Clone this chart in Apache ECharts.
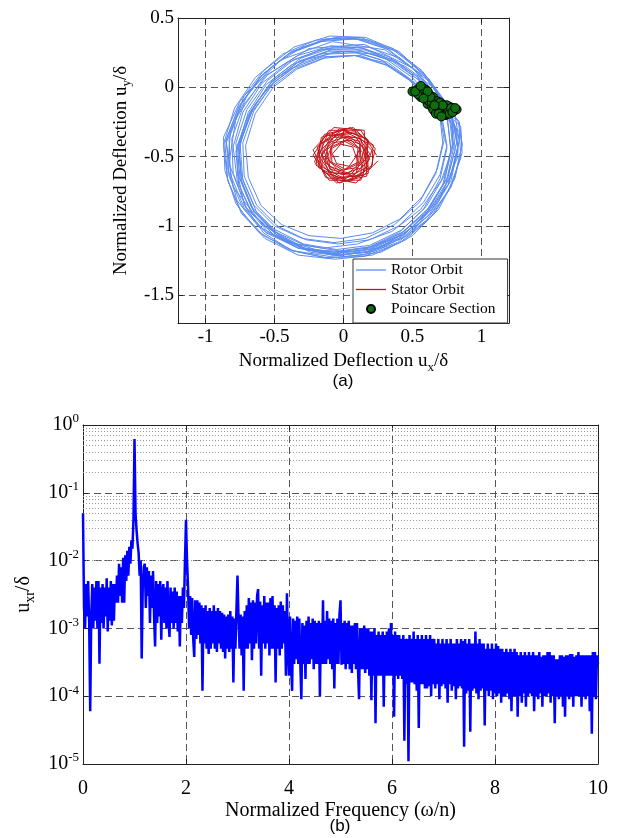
<!DOCTYPE html>
<html>
<head>
<meta charset="utf-8">
<script src="https://cdn.jsdelivr.net/npm/echarts@6/dist/echarts.min.js"></script>
<style>
html,body{margin:0;padding:0;background:#fff;}
#chart{width:617px;height:838px;}
</style>
</head>
<body>
<div id="chart"></div>
<script>
// ---- Panel (a): rotor orbit (x, y) ----
const rotorOrbit = [
[0.74,-0.12],[0.58,0.10],[0.36,0.27],[0.12,0.35],[-0.14,0.34],[-0.39,0.25],[-0.60,0.08],[-0.76,-0.14],[-0.86,-0.40],[-0.84,-0.67],[-0.74,-0.91],[-0.57,-1.09],[-0.33,-1.21],[-0.06,-1.24],[0.21,-1.21],[0.45,-1.10],[0.66,-0.91],[0.80,-0.67],[0.86,-0.42],[0.83,-0.24],
[0.66,-0.13],[0.51,0.04],[0.32,0.18],[0.11,0.25],[-0.11,0.24],[-0.32,0.17],[-0.51,0.03],[-0.65,-0.17],[-0.73,-0.40],[-0.72,-0.64],[-0.63,-0.85],[-0.48,-1.00],[-0.27,-1.10],[-0.04,-1.13],[0.19,-1.10],[0.40,-1.00],[0.58,-0.83],[0.70,-0.63],[0.75,-0.42],[0.72,-0.25],
[0.72,-0.14],[0.57,0.05],[0.38,0.19],[0.15,0.27],[-0.09,0.27],[-0.32,0.19],[-0.52,0.04],[-0.67,-0.17],[-0.76,-0.42],[-0.74,-0.67],[-0.65,-0.89],[-0.49,-1.06],[-0.27,-1.17],[-0.02,-1.21],[0.23,-1.18],[0.46,-1.07],[0.65,-0.89],[0.78,-0.67],[0.83,-0.44],[0.80,-0.27],
[0.72,-0.10],[0.58,0.09],[0.40,0.25],[0.18,0.34],[-0.06,0.36],[-0.30,0.29],[-0.52,0.15],[-0.70,-0.06],[-0.82,-0.32],[-0.84,-0.58],[-0.77,-0.82],[-0.62,-1.00],[-0.40,-1.12],[-0.15,-1.16],[0.10,-1.13],[0.35,-1.04],[0.56,-0.88],[0.71,-0.67],[0.79,-0.44],[0.79,-0.24],
[0.70,-0.10],[0.54,0.11],[0.33,0.27],[0.09,0.35],[-0.16,0.33],[-0.40,0.24],[-0.60,0.08],[-0.76,-0.14],[-0.85,-0.38],[-0.83,-0.64],[-0.73,-0.87],[-0.57,-1.04],[-0.34,-1.15],[-0.08,-1.19],[0.18,-1.16],[0.42,-1.05],[0.62,-0.87],[0.76,-0.64],[0.82,-0.40],[0.79,-0.22],
[0.78,-0.18],[0.65,0.00],[0.45,0.15],[0.22,0.24],[-0.03,0.26],[-0.27,0.20],[-0.48,0.07],[-0.64,-0.12],[-0.74,-0.36],[-0.77,-0.61],[-0.72,-0.85],[-0.58,-1.05],[-0.37,-1.18],[-0.12,-1.23],[0.14,-1.21],[0.39,-1.12],[0.60,-0.96],[0.76,-0.75],[0.85,-0.51],[0.84,-0.32],
[0.70,-0.16],[0.54,0.01],[0.34,0.15],[0.12,0.23],[-0.12,0.22],[-0.34,0.14],[-0.53,0.00],[-0.68,-0.20],[-0.76,-0.44],[-0.74,-0.68],[-0.65,-0.90],[-0.49,-1.06],[-0.28,-1.17],[-0.04,-1.21],[0.20,-1.18],[0.42,-1.08],[0.60,-0.91],[0.73,-0.69],[0.78,-0.46],[0.76,-0.29],
[0.74,-0.14],[0.50,0.14],[0.15,0.31],[-0.25,0.28],[-0.57,0.08],[-0.78,-0.22],[-0.83,-0.55],[-0.70,-0.88],[-0.44,-1.10],[-0.10,-1.20],[0.26,-1.16],[0.55,-0.98],[0.76,-0.70],[0.84,-0.38],
[0.76,-0.15],[0.60,0.08],[0.40,0.26],[0.16,0.36],[-0.10,0.37],[-0.36,0.29],[-0.58,0.12],[-0.75,-0.10],[-0.87,-0.36],[-0.86,-0.60],[-0.78,-0.84],[-0.62,-1.04],[-0.40,-1.17],[-0.13,-1.23],[0.15,-1.22],[0.41,-1.12],[0.63,-0.94],[0.78,-0.72],[0.86,-0.47],[0.85,-0.28],
[0.63,-0.09],[0.48,0.06],[0.29,0.18],[0.08,0.23],[-0.14,0.21],[-0.34,0.13],[-0.51,0.00],[-0.64,-0.19],[-0.71,-0.42],[-0.69,-0.65],[-0.60,-0.85],[-0.45,-0.99],[-0.25,-1.07],[-0.02,-1.09],[0.21,-1.05],[0.41,-0.95],[0.57,-0.79],[0.68,-0.59],[0.73,-0.38],[0.70,-0.20],
[0.69,-0.11],[0.53,0.08],[0.33,0.22],[0.11,0.29],[-0.13,0.28],[-0.36,0.20],[-0.55,0.05],[-0.70,-0.16],[-0.78,-0.40],[-0.76,-0.64],[-0.67,-0.86],[-0.51,-1.02],[-0.29,-1.13],[-0.05,-1.17],[0.19,-1.14],[0.42,-1.03],[0.60,-0.86],[0.73,-0.64],[0.79,-0.41],[0.77,-0.23],
[0.68,-0.08],[0.52,0.12],[0.31,0.28],[0.06,0.36],[-0.20,0.34],[-0.44,0.24],[-0.64,0.07],[-0.79,-0.15],[-0.87,-0.41],[-0.84,-0.67],[-0.74,-0.90],[-0.58,-1.07],[-0.36,-1.18],[-0.10,-1.22],[0.16,-1.19],[0.40,-1.09],[0.60,-0.92],[0.74,-0.70],[0.81,-0.45],[0.79,-0.25],
[0.62,-0.10],[0.46,0.07],[0.27,0.20],[0.05,0.26],[-0.17,0.24],[-0.38,0.16],[-0.56,0.02],[-0.69,-0.18],[-0.76,-0.41],[-0.74,-0.64],[-0.65,-0.85],[-0.50,-1.00],[-0.30,-1.09],[-0.07,-1.12],[0.16,-1.09],[0.37,-0.99],[0.55,-0.83],[0.67,-0.62],[0.72,-0.40],[0.70,-0.22],
[0.70,-0.15],[0.56,0.04],[0.37,0.19],[0.15,0.28],[-0.09,0.30],[-0.33,0.23],[-0.55,0.09],[-0.72,-0.12],[-0.81,-0.37],[-0.80,-0.62],[-0.71,-0.86],[-0.55,-1.04],[-0.33,-1.16],[-0.08,-1.21],[0.18,-1.19],[0.42,-1.09],[0.62,-0.92],[0.76,-0.70],[0.83,-0.46],[0.81,-0.28],
[0.76,-0.16],[0.61,0.05],[0.41,0.21],[0.18,0.29],[-0.07,0.29],[-0.31,0.21],[-0.51,0.06],[-0.66,-0.16],[-0.75,-0.41],[-0.73,-0.67],[-0.63,-0.90],[-0.46,-1.07],[-0.24,-1.19],[0.02,-1.22],[0.27,-1.19],[0.50,-1.07],[0.69,-0.88],[0.81,-0.65],[0.86,-0.41],[0.84,-0.25],
[0.80,-0.20],[0.62,0.06],[0.30,0.27],[-0.08,0.33],[-0.45,0.20],[-0.72,-0.06],[-0.85,-0.40],[-0.80,-0.72],[-0.58,-1.00],[-0.26,-1.17],[0.10,-1.19],[0.44,-1.06],[0.69,-0.82],[0.83,-0.50],[0.82,-0.30],
[0.67,-0.15],[0.51,0.03],[0.31,0.16],[0.08,0.23],[-0.15,0.22],[-0.37,0.14],[-0.56,-0.01],[-0.70,-0.22],[-0.78,-0.46],[-0.76,-0.70],[-0.66,-0.91],[-0.50,-1.07],[-0.29,-1.16],[-0.05,-1.19],[0.19,-1.15],[0.40,-1.05],[0.58,-0.88],[0.70,-0.66],[0.75,-0.44],[0.72,-0.27],
[0.66,-0.11],[0.50,0.07],[0.30,0.21],[0.07,0.28],[-0.17,0.27],[-0.40,0.18],[-0.59,0.03],[-0.73,-0.18],[-0.80,-0.43],[-0.77,-0.68],[-0.67,-0.90],[-0.51,-1.06],[-0.30,-1.16],[-0.06,-1.20],[0.18,-1.17],[0.40,-1.07],[0.59,-0.91],[0.72,-0.70],[0.78,-0.47],[0.76,-0.28],
[0.73,-0.09],[0.57,0.12],[0.36,0.28],[0.12,0.36],[-0.13,0.35],[-0.37,0.26],[-0.58,0.10],[-0.74,-0.12],[-0.83,-0.37],[-0.82,-0.63],[-0.72,-0.87],[-0.56,-1.05],[-0.33,-1.16],[-0.07,-1.20],[0.19,-1.17],[0.44,-1.06],[0.64,-0.88],[0.78,-0.64],[0.84,-0.39],[0.81,-0.21],
[0.71,-0.13],[0.55,0.05],[0.35,0.19],[0.13,0.26],[-0.11,0.26],[-0.33,0.18],[-0.53,0.03],[-0.68,-0.18],[-0.77,-0.42],[-0.75,-0.66],[-0.66,-0.88],[-0.50,-1.04],[-0.28,-1.14],[-0.03,-1.18],[0.21,-1.15],[0.44,-1.04],[0.62,-0.87],[0.75,-0.66],[0.80,-0.43],[0.78,-0.26],
[0.72,-0.13]
];

// ---- Panel (a): stator orbit (x, y) ----
const statorOrbit = [
[0.24,-0.49],[0.125,-0.31],[-0.105,-0.31],[-0.22,-0.49],[-0.105,-0.67],[0.125,-0.67],
[0.22,-0.42],[0.05,-0.29],[-0.16,-0.36],[-0.20,-0.56],[-0.03,-0.69],[0.18,-0.62],
[0.17,-0.37],[-0.03,-0.30],[-0.19,-0.43],[-0.15,-0.61],[0.05,-0.68],[0.21,-0.56],
[0.21,-0.46],[0.08,-0.32],[-0.12,-0.35],[-0.19,-0.52],[-0.06,-0.66],[0.14,-0.63],
[0.18,-0.405],[0.01,-0.32],[-0.155,-0.405],[-0.155,-0.575],[0.01,-0.66],[0.175,-0.575],
[0.125,-0.37],[-0.05,-0.34],[-0.17,-0.46],[-0.105,-0.61],[0.07,-0.64],[0.19,-0.52],
[0.175,-0.49],[0.09,-0.36],[-0.07,-0.36],[-0.155,-0.49],[-0.07,-0.62],[0.09,-0.62],
[0.155,-0.44],[0.035,-0.35],[-0.11,-0.40],[-0.135,-0.54],[-0.015,-0.63],[0.13,-0.58],
[0.12,-0.41],[-0.015,-0.36],[-0.12,-0.45],[-0.10,-0.57],[0.035,-0.62],[0.14,-0.53],
[0.14,-0.47],[0.055,-0.38],[-0.075,-0.40],[-0.12,-0.51],[-0.035,-0.60],[0.095,-0.58],
[0.105,-0.44],[0.01,-0.39],[-0.085,-0.44],[-0.085,-0.54],[0.01,-0.59],[0.105,-0.54],
[0.067,-0.43],[-0.02,-0.41],[-0.08,-0.48],[-0.05,-0.55],[0.04,-0.57],[0.09,-0.50],
[0.12,-0.44],[0.02,-0.38],[-0.09,-0.43],[-0.10,-0.54],[0.00,-0.60],[0.11,-0.55],
[0.12,-0.39],[-0.03,-0.35],[-0.14,-0.46],[-0.10,-0.59],[0.05,-0.63],[0.16,-0.52],
[0.19,-0.48],[0.09,-0.33],[-0.09,-0.35],[-0.17,-0.51],[-0.07,-0.65],[0.12,-0.64],
[0.18,-0.38],[0.00,-0.305],[-0.17,-0.41],[-0.18,-0.58],[0.02,-0.675],[0.20,-0.58],
[0.23,-0.44],[0.07,-0.29],[-0.14,-0.34],[-0.21,-0.54],[-0.05,-0.69],[0.17,-0.64],
[0.15,-0.31],[-0.07,-0.29],[-0.22,-0.45],[-0.13,-0.65],[0.09,-0.69],[0.25,-0.53]
];

// ---- Panel (a): Poincare section points (x, y) ----
const poincarePoints = [
[0.50,-0.03],[0.53,-0.02],[0.55,-0.04],[0.57,0.00],[0.58,-0.05],[0.60,-0.02],[0.56,-0.07],[0.60,-0.08],
[0.62,-0.05],[0.63,-0.09],[0.61,-0.12],[0.65,-0.07],[0.66,-0.11],[0.64,-0.14],[0.67,-0.15],[0.68,-0.10],
[0.69,-0.13],[0.70,-0.17],[0.68,-0.18],[0.71,-0.12],[0.72,-0.15],[0.72,-0.19],[0.73,-0.13],[0.74,-0.17],
[0.70,-0.20],[0.75,-0.15],[0.76,-0.18],[0.74,-0.20],[0.77,-0.14],[0.78,-0.17],[0.79,-0.15],[0.80,-0.17],
[0.82,-0.16],[0.66,-0.17],[0.69,-0.16],[0.71,-0.14],[0.73,-0.16],[0.75,-0.13],[0.67,-0.13],[0.62,-0.10],
[0.59,-0.06],[0.54,-0.05],[0.52,-0.03],[0.64,-0.11],[0.65,-0.16],[0.67,-0.19],[0.68,-0.14],[0.70,-0.15],
[0.70,-0.11],[0.71,-0.18],[0.72,-0.17],[0.73,-0.20],[0.73,-0.18],[0.74,-0.15],[0.75,-0.19],[0.76,-0.16],
[0.77,-0.19],[0.78,-0.15],[0.79,-0.18],[0.81,-0.15],[0.69,-0.19],[0.71,-0.21],[0.72,-0.13],[0.66,-0.13],
[0.63,-0.07],[0.58,-0.01],[0.56,0.01],[0.61,-0.03],[0.58,-0.08]
];

// ---- Panel (b): spectrum, sampled every 0.02 in normalized frequency from 0 to 10 ----
const freqStep = 0.02;
const spectrumValues = [
5e-2,2e-3,1e-3,4.5e-3,1.5e-3,5e-3,1.2e-3,6e-5,1.5e-3,4.5e-3,
1e-3,4e-3,1.3e-3,5e-3,1e-3,5e-3,3e-4,4e-3,1.2e-3,4.5e-3,
1e-3,4e-3,1.5e-3,5.5e-3,9e-4,4e-3,1.3e-3,5e-3,1.1e-3,4.5e-3,
1.3e-3,4.5e-3,2.4e-3,6e-3,2.4e-3,9e-3,3e-3,8e-3,2.4e-3,1.1e-2,
2.4e-3,1.2e-2,5e-3,1.4e-2,6e-3,1.6e-2,9e-3,2e-2,1.5e-2,4e-2,
0.62,5e-2,2.8e-2,1.8e-2,1.3e-2,6e-3,1e-2,3.6e-4,4e-3,8e-3,
9e-3,2e-3,8e-3,3e-3,7e-3,1.2e-3,6e-3,2e-3,7e-3,1.5e-3,
5.4e-4,5e-3,1.2e-3,4.5e-3,1.5e-3,5e-3,6.8e-4,3.5e-3,4.5e-3,1.2e-3,
4e-3,1e-3,5e-3,1.3e-3,7.5e-4,4e-3,1.2e-3,3.5e-3,1e-3,4e-3,
1.2e-3,3.5e-3,9e-4,3e-3,5.4e-4,3e-3,1.2e-3,4e-3,2e-3,1e-2,
4e-2,1e-2,4e-3,1e-3,3e-3,8e-4,2.8e-3,7e-4,3.8e-4,2.6e-3,
7e-4,2.6e-3,8e-4,2.4e-3,6e-4,2.2e-3,1.2e-4,2e-3,6e-4,2.2e-3,
5e-4,1.8e-3,4.2e-4,2e-3,5e-4,1.8e-3,6e-4,2.2e-3,5e-4,1.8e-3,
4.5e-4,2e-3,6e-4,1.8e-3,5e-4,1.7e-3,4.5e-4,1.6e-3,3.6e-4,1.5e-3,
5e-4,1.6e-3,4.5e-4,1.8e-3,5e-4,1.5e-3,1.6e-4,1.4e-3,5e-4,2e-3,
6e-3,1.4e-3,5e-4,1.6e-3,4e-4,1.5e-3,1.2e-4,1.8e-3,5e-4,2.2e-3,
5e-4,2.8e-3,6e-4,2.4e-3,3.4e-4,2.6e-3,5e-4,2.4e-3,6e-4,3e-3,
3.8e-3,5e-4,2.5e-3,2e-4,2.2e-3,6e-4,3e-3,5e-4,2.4e-3,6e-4,
2.4e-3,4e-4,2.8e-3,5e-4,3e-3,5e-4,2.2e-3,1.6e-4,2e-3,5e-4,
2.2e-3,4e-4,2.5e-3,5e-4,2.2e-3,6e-4,1.8e-3,2e-4,3.3e-3,5e-4,
2e-4,1.5e-3,3e-4,1.2e-4,1.4e-3,3e-4,1.3e-3,3.5e-4,1.5e-3,3e-4,
1.4e-3,3e-4,9e-5,1.2e-3,3e-4,1.1e-3,1.8e-4,1.3e-3,3e-4,1.5e-3,
3e-4,1.2e-3,3.5e-4,1.4e-3,2.5e-4,1.3e-3,3e-4,1.2e-3,3e-4,1.3e-3,
1e-4,1.2e-3,3e-4,2.6e-3,3e-4,1.3e-3,3e-4,1.8e-3,3.5e-4,1.4e-3,
3e-4,1.3e-3,2.5e-4,1.4e-3,1.3e-4,1.2e-3,3e-4,1.4e-3,3e-4,1.6e-3,
2.6e-3,2.9e-4,1.2e-3,3e-4,1.3e-3,2.5e-4,1.2e-3,3e-4,1.3e-3,2.5e-4,
1.1e-3,2.2e-4,1.1e-3,3e-4,1.2e-3,2.5e-4,1.2e-3,2.5e-4,9e-5,1e-3,
2.5e-4,1e-3,2.5e-4,1.1e-3,2.2e-4,1e-3,2.5e-4,1e-3,2e-4,9e-4,
8.7e-5,9e-4,2e-4,1e-3,4e-5,8e-4,2e-4,9e-4,2e-4,8e-4,
2e-4,9e-4,7e-5,8e-4,2e-4,9e-4,2e-4,1e-3,2e-4,1.2e-3,
2e-4,8e-4,5e-5,9e-4,2e-4,8e-4,1.8e-4,8e-4,2e-4,7e-4,
1.8e-4,8e-4,2.2e-5,7e-4,1.5e-4,7e-4,1.1e-5,8e-4,1.6e-4,7e-4,
1.6e-4,9e-4,1.5e-4,7e-4,1.2e-4,8e-4,3.4e-5,7e-4,1.5e-4,8e-4,
1.5e-4,7e-4,1.3e-4,8e-4,1.3e-4,7e-4,1.4e-4,8e-4,1e-4,7e-4,
1.5e-4,7e-4,1.3e-4,6e-4,1.5e-4,7e-4,9e-5,6e-4,1.4e-4,7e-4,
1.5e-4,6e-4,1.3e-4,7e-4,8e-5,6e-4,1.5e-4,7e-4,1.2e-4,6e-4,
1.4e-4,6e-4,9e-5,7e-4,1.3e-4,6e-4,1.4e-4,7e-4,1.3e-4,6.5e-4,
1.8e-5,7e-4,1.1e-4,6e-4,1.2e-4,7e-4,3e-5,6e-4,1.2e-4,6e-4,
1.3e-4,9e-4,1.1e-4,6e-4,9e-5,7e-4,1.2e-4,6e-4,1.3e-4,6e-4,
3.7e-5,5e-4,1.2e-4,6e-4,1e-4,5e-4,1.2e-4,6e-4,9e-5,5e-4,
1.1e-4,6e-4,1e-4,5.5e-4,1.1e-4,5e-4,8e-5,5e-4,1e-4,4.5e-4,
1e-4,5e-4,1.1e-4,4.5e-4,9e-5,5e-4,6e-5,4.5e-4,1e-4,5e-4,
1e-4,4.5e-4,5e-5,4e-4,1e-4,4.5e-4,8e-5,4e-4,1.1e-4,4.5e-4,
7e-5,4e-4,1e-4,4.5e-4,1.1e-4,4e-4,1e-4,4.5e-4,6e-5,4e-4,
1e-4,4e-4,9e-5,4.5e-4,1.1e-4,3.8e-4,7e-5,4e-4,1e-4,4e-4,
1e-4,4.5e-4,1.1e-4,4.5e-4,8e-5,4e-4,1e-4,4e-4,4e-5,3.5e-4,
1e-4,3.5e-4,9e-5,4e-4,1e-4,4e-4,7e-5,3.8e-4,5e-5,4e-4,
1e-4,4e-4,9e-5,4.2e-4,1e-4,4.2e-4,7e-5,3.8e-4,1e-4,4e-4,
1e-4,4.5e-4,1e-4,4e-4,7e-5,4e-4,1e-4,4e-4,9e-5,4e-4,
1e-4,4e-4,6e-5,4e-4,2.8e-5,4.5e-4,1e-4,4.5e-4,9e-5,4e-4,
3e-4
];
const spectrumData = spectrumValues.map((v, i) => [+(i * freqStep).toFixed(2), v]);

// minor log grid positions (2..9 x each decade)
const minorLogLines = [];
for (let e = -5; e < 0; e++) for (let m = 2; m <= 9; m++) minorLogLines.push({ yAxis: m * Math.pow(10, e) });

const SERIF = '"Liberation Serif","Times New Roman",serif';
const dashed = { color: '#555', type: [7, 4], width: 1 };
const LINE_ICON = 'path://M0,0L30,0L30,1.3L0,1.3Z';

const chart = echarts.init(document.getElementById('chart'), null, { renderer: 'canvas' });

function halfStep(v) { return Math.abs(v * 2 - Math.round(v * 2)) < 1e-6; }

const frameAxis = {
  axisLine: { onZero: false, lineStyle: { color: '#222' } },
  axisTick: { inside: true, length: 5, lineStyle: { color: '#222' } }
};

const option = {
  animation: false,
  backgroundColor: '#fff',
  textStyle: { fontFamily: SERIF, color: '#000' },
  grid: [
    { left: 178, right: 108, top: 18, bottom: 515 },
    { left: 83, right: 19, top: 425, bottom: 74 }
  ],
  legend: {
    orient: 'vertical',
    left: 353, top: 259,
    padding: [3, 12, 6, 3],
    itemWidth: 30, itemHeight: 8, itemGap: 3.5,
    backgroundColor: '#fff',
    borderColor: '#333', borderWidth: 1, borderRadius: 0,
    textStyle: { fontFamily: SERIF, fontSize: 15.5, color: '#000', lineHeight: 16 },
    data: [
      { name: 'Rotor Orbit', icon: LINE_ICON },
      { name: 'Stator Orbit', icon: LINE_ICON },
      { name: 'Poincare Section', icon: 'circle' }
    ]
  },
  xAxis: [
    Object.assign({
      gridIndex: 0, type: 'value', min: -1.2, max: 1.2, splitNumber: 5,
      axisLabel: { fontFamily: SERIF, fontSize: 19, color: '#000', margin: 5,
        formatter: v => halfStep(v) ? String(v) : '' },
      splitLine: { show: true, lineStyle: dashed },
      name: 'Normalized Deflection u{sub|x}/δ', nameLocation: 'middle', nameGap: 26,
      nameTextStyle: { fontFamily: SERIF, fontSize: 19, color: '#000',
        rich: { sub: { fontFamily: SERIF, fontSize: 13, padding: [12, 0, 0, 0] } } }
    }, frameAxis),
    Object.assign({
      gridIndex: 0, type: 'value', position: 'top', min: -1.2, max: 1.2, splitNumber: 5,
      axisLabel: { show: false }, splitLine: { show: false }
    }, frameAxis),
    Object.assign({
      gridIndex: 1, type: 'value', min: 0, max: 10, interval: 2,
      axisLabel: { fontFamily: SERIF, fontSize: 20, color: '#000', margin: 15 },
      splitLine: { show: true, lineStyle: dashed },
      name: 'Normalized Frequency (ω/n)', nameLocation: 'middle', nameGap: 37,
      nameTextStyle: { fontFamily: SERIF, fontSize: 20, color: '#000' }
    }, frameAxis),
    Object.assign({
      gridIndex: 1, type: 'value', position: 'top', min: 0, max: 10, interval: 2,
      axisLabel: { show: false }, splitLine: { show: false }
    }, frameAxis)
  ],
  yAxis: [
    Object.assign({
      gridIndex: 0, type: 'value', min: -1.7, max: 0.5, splitNumber: 5,
      axisLabel: { fontFamily: SERIF, fontSize: 19, color: '#000', margin: 4,
        formatter: v => halfStep(v) ? String(v) : '' },
      splitLine: { show: true, lineStyle: dashed },
      name: 'Normalized Deflection u{sub|y}/δ', nameLocation: 'middle', nameGap: 39,
      nameTextStyle: { fontFamily: SERIF, fontSize: 19, color: '#000',
        rich: { sub: { fontFamily: SERIF, fontSize: 13, padding: [12, 0, 0, 0] } } }
    }, frameAxis),
    Object.assign({
      gridIndex: 0, type: 'value', position: 'right', min: -1.7, max: 0.5, splitNumber: 5,
      axisLabel: { show: false }, splitLine: { show: false }
    }, frameAxis),
    Object.assign({
      gridIndex: 1, type: 'log', logBase: 10, min: 1e-5, max: 1,
      axisLabel: {
        margin: 4,
        formatter: v => '{b|10}{s|' + Math.round(Math.log10(v)) + '}',
        rich: {
          b: { fontFamily: SERIF, fontSize: 20, color: '#000' },
          s: { fontFamily: SERIF, fontSize: 13, color: '#000', padding: [0, 0, 12, 0] }
        }
      },
      splitLine: { show: true, lineStyle: dashed },
      name: 'u{sub|xr}/δ', nameLocation: 'middle', nameGap: 46,
      nameTextStyle: { fontFamily: SERIF, fontSize: 20, color: '#000',
        rich: { sub: { fontFamily: SERIF, fontSize: 14, padding: [12, 0, 0, 0] } } }
    }, frameAxis),
    Object.assign({
      gridIndex: 1, type: 'log', logBase: 10, min: 1e-5, max: 1, position: 'right',
      axisLabel: { show: false }, splitLine: { show: false }
    }, frameAxis)
  ],
  series: [
    {
      name: 'Rotor Orbit', type: 'line', xAxisIndex: 0, yAxisIndex: 0,
      data: rotorOrbit, symbol: 'none', z: 3,
      lineStyle: { color: '#5b8cf0', width: 1 }, itemStyle: { color: '#5b8cf0' }
    },
    {
      name: 'Stator Orbit', type: 'line', xAxisIndex: 0, yAxisIndex: 0,
      data: statorOrbit, symbol: 'none', z: 3,
      lineStyle: { color: '#c0161b', width: 1 }, itemStyle: { color: '#c0161b' }
    },
    {
      name: 'Poincare Section', type: 'scatter', xAxisIndex: 0, yAxisIndex: 0,
      data: poincarePoints, symbol: 'circle', symbolSize: 9, z: 4,
      itemStyle: { color: '#0f6e0f', borderColor: '#000', borderWidth: 1, opacity: 1 }
    },
    {
      name: 'spectrum', type: 'line', xAxisIndex: 2, yAxisIndex: 2,
      data: spectrumData, symbol: 'none', z: 3,
      lineStyle: { color: '#0000ff', width: 2.5 },
      markLine: {
        silent: true, symbol: 'none', z: 1, animation: false,
        label: { show: false },
        lineStyle: { color: '#999', type: [1, 2], width: 1 },
        data: minorLogLines
      }
    }
  ],
  graphic: [
    { type: 'text', x: 343, y: 381, style: { text: '(a)', font: '17px "Liberation Sans", Arial, sans-serif', fill: '#000', textAlign: 'center', textVerticalAlign: 'middle' } },
    { type: 'text', x: 340, y: 826, style: { text: '(b)', font: '17px "Liberation Sans", Arial, sans-serif', fill: '#000', textAlign: 'center', textVerticalAlign: 'middle' } }
  ]
};
chart.setOption(option);
</script>
</body>
</html>
